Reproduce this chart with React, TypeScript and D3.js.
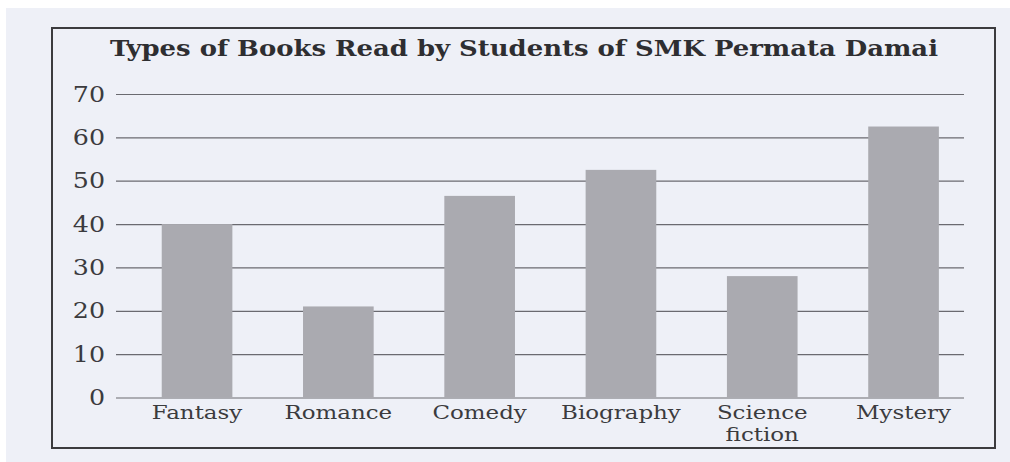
import React, { useEffect, useRef } from 'react'
import * as d3 from 'd3'

// chart data
const categories = ['Fantasy', 'Romance', 'Comedy', 'Biography', 'Science fiction', 'Mystery']
const labelLines = [['Fantasy'], ['Romance'], ['Comedy'], ['Biography'], ['Science', 'fiction'], ['Mystery']]
const readers = [40, 21, 46.5, 52.5, 28, 62.5]
const yTicks = [0, 10, 20, 30, 40, 50, 60, 70]
const title = 'Types of Books Read by Students of SMK Permata Damai'

const W = 1010
const H = 462
const FONT = '"DejaVu Serif", "Liberation Serif", serif'
const INK = '#3b3b3e'

export default function App() {
  const ref = useRef<SVGSVGElement | null>(null)

  useEffect(() => {
    const svg = d3.select(ref.current)
    svg.selectAll('*').remove()

    const gridLeft = 116
    const gridRight = 964
    const y = d3.scaleLinear().domain([0, 70]).range([397.5, 94])
    const x = d3.scaleBand<string>()
      .domain(categories)
      .range([126.4, 974.2])
      .paddingInner(0.5)
      .paddingOuter(0.25)

    // paper
    svg.append('rect').attr('width', W).attr('height', H).attr('fill', '#ffffff')
    svg.append('rect').attr('x', 6).attr('y', 8).attr('width', W - 6).attr('height', H - 8).attr('fill', '#eef0f7')

    // frame
    svg.append('rect')
      .attr('x', 52).attr('y', 28).attr('width', 943).attr('height', 420)
      .attr('fill', 'none').attr('stroke', INK).attr('stroke-width', 2)

    // title
    svg.append('text')
      .attr('x', 524).attr('y', 56)
      .attr('text-anchor', 'middle')
      .attr('font-family', FONT).attr('font-weight', 'bold').attr('font-size', 23)
      .attr('fill', '#2e2e31')
      .attr('textLength', 828).attr('lengthAdjust', 'spacingAndGlyphs')
      .text(title)

    // y axis with gridlines
    const yAxis = svg.append('g')
      .attr('transform', `translate(${gridLeft},0)`)
      .call(d3.axisLeft(y).tickValues(yTicks).tickSize(-(gridRight - gridLeft)).tickPadding(11).tickFormat(d3.format('d')))
    yAxis.select('.domain').remove()
    yAxis.selectAll('.tick line').attr('stroke', '#6a6a70').attr('stroke-width', 1.2)
    yAxis.selectAll('.tick text')
      .attr('font-family', FONT).attr('font-size', 22).attr('fill', INK)
      .attr('lengthAdjust', 'spacingAndGlyphs')
      .attr('textLength', function () { return (this as SVGTextElement).getComputedTextLength() * 1.15 })

    // bars
    svg.append('g').selectAll('rect')
      .data(categories)
      .enter()
      .append('rect')
      .attr('x', d => x(d)!)
      .attr('y', (d, i) => y(readers[i]))
      .attr('width', x.bandwidth())
      .attr('height', (d, i) => y(0) - y(readers[i]))
      .attr('fill', '#aaaab0')

    // category labels, one text per line
    const labels = svg.append('g')
    categories.forEach((d, i) => {
      labelLines[i].forEach((line, j) => {
        labels.append('text')
          .attr('x', x(d)! + x.bandwidth() / 2)
          .attr('y', 419 + j * 21.5)
          .attr('text-anchor', 'middle')
          .attr('font-family', FONT).attr('font-size', 18.5).attr('fill', INK)
          .text(line)
      })
    })
    labels.selectAll('text')
      .attr('lengthAdjust', 'spacingAndGlyphs')
      .attr('textLength', function () { return (this as SVGTextElement).getComputedTextLength() * 1.24 })
  }, [])

  return (
    <svg
      ref={ref}
      width={W}
      height={H}
      style={{ position: 'absolute', left: 0, top: 0, display: 'block' }}
    />
  )
}
